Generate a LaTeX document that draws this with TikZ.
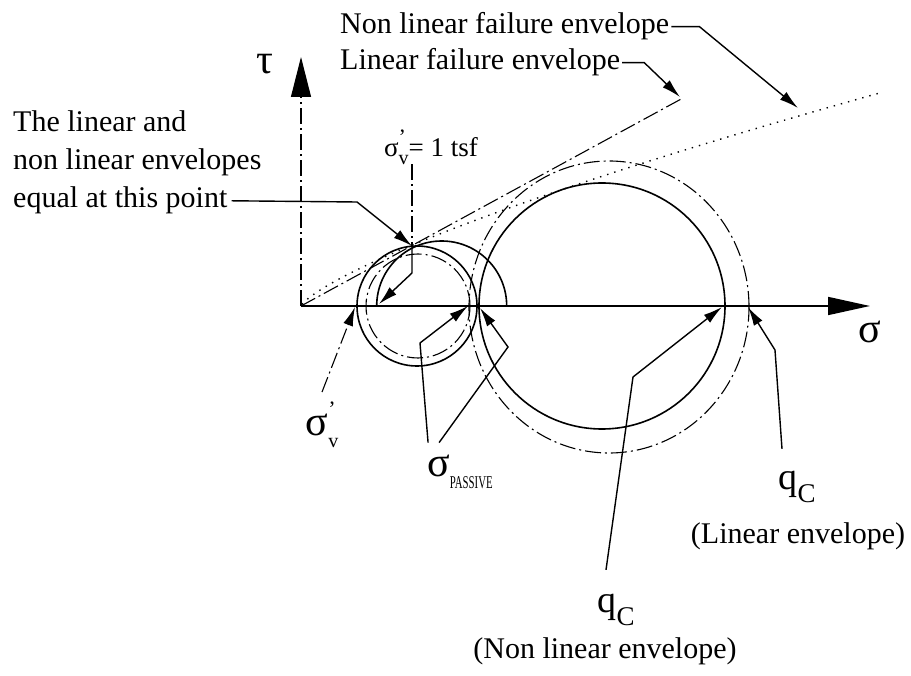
\documentclass[tikz,border=0pt]{standalone}
\usepackage{fontspec}
\setmainfont{Liberation Serif}
\usepackage{graphicx}
\usetikzlibrary{arrows.meta, positioning, calc}

\newcommand{\sigv}{σ\rlap{\raisebox{0.45em}{\fontsize{22}{22}\selectfont '}}\raisebox{-0.28em}{\fontsize{20}{20}\selectfont v}}
\newcommand{\qC}{q\raisebox{-0.35em}{\fontsize{27}{27}\selectfont C}}
\newcommand{\passive}{\raisebox{-0.3em}{\scalebox{0.6}[1]{\fontsize{18}{18}\selectfont PASSIVE}}}

\begin{document}
\begin{tikzpicture}[x=1pt, y=1pt,
    >={Latex[length=19pt,width=10pt]},
    lbl/.style={inner sep=0pt, font=\fontsize{30}{38}\selectfont},
    greek/.style={inner sep=0pt, font=\fontsize{42}{42}\selectfont},
    axis/.style={line width=1.7pt},
    leader/.style={line width=1.4pt, ->},
    mohr/.style={line width=1.6pt},
    chain/.style={line width=1.1pt, dash pattern=on 16pt off 4pt on 2pt off 4pt},
    dotenv/.style={line width=1.4pt, dash pattern=on 1.4pt off 6pt}
]
\useasboundingbox (0,0) rectangle (911,-676);

% === Ejes ===
\coordinate (O) at (301,-306);
\coordinate (tautip) at (301,-57);
\coordinate (sigtip) at (870,-306);
\draw[axis, -{Triangle[length=42pt,width=18pt]}] (O) -- (sigtip);
\draw[chain, -{Triangle[length=40pt,width=20pt]}] (O) -- (tautip);
\node[greek] (tau) at (265,-64) {τ};
\node[greek] (sig) at (870,-332) {σ};

% === Circulos de Mohr ===
\draw[mohr] (417,-306) circle[radius=60];
\draw[chain] (418,-306) circle[radius=52];
\draw[mohr] (376.7,-306) arc[start angle=180, end angle=0, radius=65];
\draw[mohr] (602,-306) circle[radius=123];
\draw[chain] (609,-307) ellipse[x radius=140, y radius=146];

% === Envolventes ===
\coordinate (lend) at (683,-98);
\draw[chain] (O) -- (lend);
\draw[dotenv] plot[domain=1:580, samples=90] ({301+\x}, {-306+1.705*\x^0.759});

% === Puntos senalados ===
\coordinate (tanpt) at (412,-246);
\coordinate (lpt) at (680,-97);
\coordinate (nlpt) at (798,-108);
\coordinate (afoot) at (355,-307);
\coordinate (bfoot) at (379,-304);
\coordinate (cright) at (468,-306);
\coordinate (dleft) at (480,-308);
\coordinate (dright) at (722,-307);
\coordinate (eright) at (748,-307);

% === Etiquetas de envolventes ===
\node[lbl, anchor=base west] (nlenv) at (340,-34) {Non linear failure envelope};
\node[lbl, anchor=base west] (lenv) at (340,-70) {Linear failure envelope};
\draw[leader] ([xshift=2pt]nlenv.east) -- ++(28,0) -- (nlpt);
\draw[leader] ([xshift=2pt]lenv.east) -- ++(22,0) -- (lpt);

\node[lbl, anchor=base west] (eqa) at (13,-132) {The linear and};
\node[lbl, anchor=base west] (eqb) at (13,-170) {non linear envelopes};
\node[lbl, anchor=base west] (eqc) at (13,-208) {equal at this point};
\draw[leader] ([xshift=4pt]eqc.east) -- (357,-202) -- (tanpt);

% === Tension vertical ===
\node[inner sep=0pt, font=\fontsize{27}{27}\selectfont] (svtop) at (431,-147) {\sigv= 1 tsf};
\draw[chain] (svtop.south -| tanpt) -- (tanpt);
\draw[leader] (tanpt) -- (412,-273) -- (bfoot);

\node[greek] (svbot) at (322,-425) {\sigv};
\draw[chain, ->] ($(svbot.north)+(0,10)$) -- (afoot);

% === Tension pasiva ===
\node[greek] (spas) at (460,-472) {σ\passive};
\draw[leader] ($(spas.north west)+(1,12)$) -- (420,-343) -- (cright);
\draw[leader] ($(spas.north west)+(12,12)$) -- (508,-347) -- (dleft);

% === Resistencia de punta ===
\node[lbl, anchor=base] (qnltxt) at (605,-658) {(Non linear envelope)};
\node[greek, font=\fontsize{38}{38}\selectfont] (qnl) at (616,-610) {\qC};
\draw[leader] ($(qnl.north)+(-10,24)$) -- (633,-377) -- (dright);

\node[lbl, anchor=base] (qltxt) at (798,-543) {(Linear envelope)};
\node[greek, font=\fontsize{38}{38}\selectfont] (ql) at (797,-487) {\qC};
\draw[leader] ($(ql.north)+(-15,22)$) -- (775,-350) -- (eright);

\end{tikzpicture}
\end{document}
